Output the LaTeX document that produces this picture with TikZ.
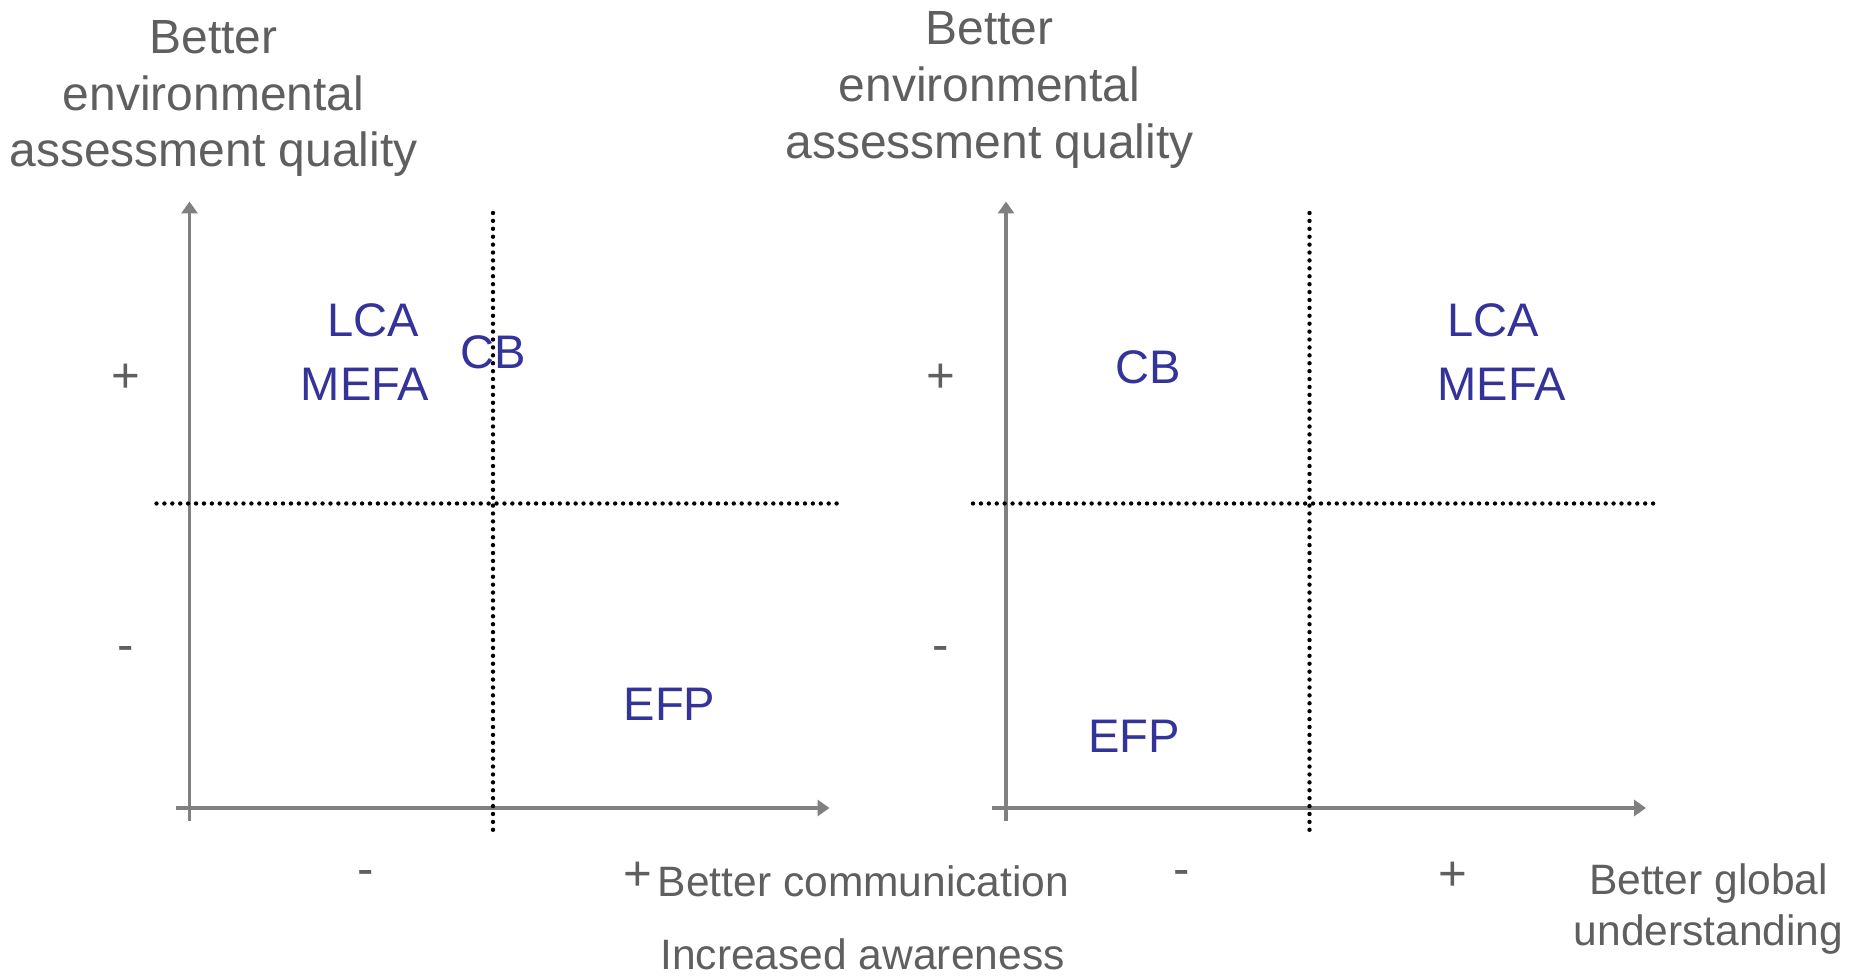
\documentclass[tikz,border=0pt]{standalone}
\usepackage{fontspec}
\setmainfont{Liberation Sans}
\usetikzlibrary{arrows.meta}
\definecolor{axisgray}{HTML}{808080}
\definecolor{textgray}{HTML}{5F5F5F}
\definecolor{tagblue}{HTML}{333399}

\begin{document}
\begin{tikzpicture}[
  axis/.style={draw=axisgray,line width=2pt,-{Triangle[length=0.24cm,width=0.32cm]}},
  split/.style={line width=2.5pt,line cap=round,dash pattern=on 0pt off 4.5pt},
  title/.style={text=textgray,align=center,font=\fontsize{27.3}{32.4}\selectfont,inner sep=0pt},
  sign/.style={text=textgray,font=\fontsize{28}{32}\selectfont,inner sep=0pt},
  caption/.style={text=textgray,align=center,font=\fontsize{24.2}{28.5}\selectfont,inner sep=0pt},
  tag/.style={text=tagblue,font=\fontsize{26.8}{32}\selectfont,inner sep=0pt}]
\useasboundingbox (0,0) rectangle (37.16,19.52);

% left chart: communication
\begin{scope}
\coordinate (ybot1) at (3.79,3.10);
\coordinate (ytop1) at (3.79,15.49);
\coordinate (xbeg1) at (3.51,3.36);
\coordinate (xend1) at (16.59,3.36);
\coordinate (vtop1) at (9.86,15.26);
\coordinate (vbot1) at (9.86,2.86);
\coordinate (hbeg1) at (3.13,9.45);
\coordinate (hend1) at (16.83,9.45);
\draw[axis] (ybot1) -- (ytop1);
\draw[axis] (xbeg1) -- (xend1);
\draw[split] (vtop1) -- (vbot1);
\draw[split] (hbeg1) -- (hend1);
\node[title] (ytitle1) at (4.27,17.55) {Better\\environmental\\assessment quality};
\node[sign] (yplus1) at (2.51,11.96) {+};
\node[sign] (yminus1) at (2.51,6.43) {-};
\node[sign] (xminus1) at (7.32,1.96) {-};
\node[sign] (xplus1) at (12.75,2.00) {+};
\node[caption,anchor=west] (xtitle1) at (13.15,1.89) {Better communication};
\node[caption] (xsub1) at (17.25,0.43) {Increased awareness};
\node[tag] (lca1) at (7.47,13.12) {LCA};
\node[tag] (mefa1) at (7.30,11.84) {MEFA};
\node[tag] (cb1) at (9.86,12.48) {CB};
\node[tag] (efp1) at (13.39,5.44) {EFP};
\end{scope}

% right chart: global understanding
\begin{scope}[xshift=16.33cm]
\coordinate (ybot2) at (3.79,3.10);
\coordinate (ytop2) at (3.79,15.49);
\coordinate (xbeg2) at (3.51,3.36);
\coordinate (xend2) at (16.59,3.36);
\coordinate (vtop2) at (9.86,15.26);
\coordinate (vbot2) at (9.86,2.86);
\coordinate (hbeg2) at (3.13,9.45);
\coordinate (hend2) at (16.83,9.45);
\draw[axis] (ybot2) -- (ytop2);
\draw[axis] (xbeg2) -- (xend2);
\draw[split] (vtop2) -- (vbot2);
\draw[split] (hbeg2) -- (hend2);
\node[title] (ytitle2) at (3.46,17.72) {Better\\environmental\\assessment quality};
\node[sign] (yplus2) at (2.49,11.96) {+};
\node[sign] (yminus2) at (2.49,6.43) {-};
\node[sign] (xminus2) at (7.30,1.96) {-};
\node[sign] (xplus2) at (12.73,2.00) {+};
\node[caption] (xtitle2) at (17.84,1.34) {Better global\\understanding};
\node[tag] (cb2) at (6.64,12.17) {CB};
\node[tag] (lca2) at (13.53,13.12) {LCA};
\node[tag] (mefa2) at (13.70,11.84) {MEFA};
\node[tag] (efp2) at (6.35,4.80) {EFP};
\end{scope}

\end{tikzpicture}
\end{document}
